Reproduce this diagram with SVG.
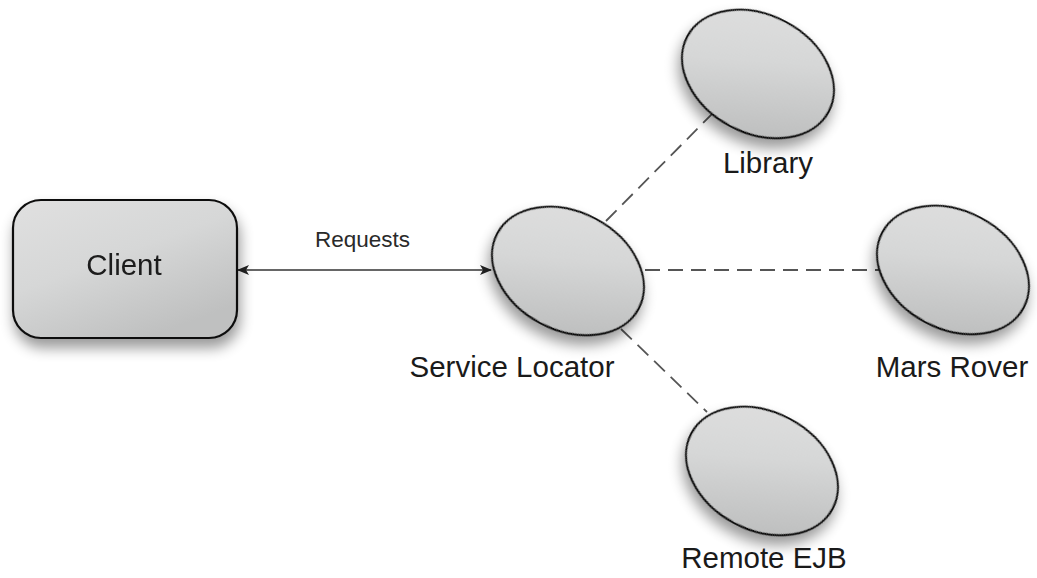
<svg xmlns="http://www.w3.org/2000/svg" width="1037" height="578" viewBox="0 0 1037 578">
  <defs>
    <linearGradient id="fillGrad" x1="0" y1="0" x2="0.6" y2="1">
      <stop offset="0" stop-color="#e0e0e0"/>
      <stop offset="0.5" stop-color="#d6d7d7"/>
      <stop offset="1" stop-color="#bfc0c0"/>
    </linearGradient>
    <filter id="shadow" x="-25%" y="-25%" width="150%" height="160%">
      <feGaussianBlur in="SourceAlpha" stdDeviation="7"/>
      <feOffset dx="2" dy="9" result="b"/>
      <feComponentTransfer><feFuncA type="linear" slope="0.4"/></feComponentTransfer>
      <feMerge><feMergeNode/><feMergeNode in="SourceGraphic"/></feMerge>
    </filter>
    <marker id="arrow" viewBox="0 0 12 10" refX="11" refY="5" markerWidth="12" markerHeight="10" markerUnits="userSpaceOnUse" orient="auto-start-reverse">
      <path d="M0,0 L12,5 L0,10 L3,5 Z" fill="#222"/>
    </marker>
  </defs>
  <style>
    .node { fill: url(#fillGrad); stroke: #111; stroke-width: 2.2; }
    .label { font-family: "Liberation Sans", Arial, sans-serif; font-size: 29.5px; fill: #1a1a1a; text-anchor: middle; }
    .small { font-family: "Liberation Sans", Arial, sans-serif; font-size: 22.5px; fill: #2a2a2a; text-anchor: middle; }
    .dash { stroke: #555; stroke-width: 1.8; stroke-dasharray: 15 8; fill: none; }
    .solid { stroke: #333; stroke-width: 1.5; fill: none; }
  </style>
  <rect width="1037" height="578" fill="#ffffff"/>

  <g id="connectors">
    <line class="solid" x1="238" y1="270" x2="491" y2="270" marker-start="url(#arrow)" marker-end="url(#arrow)"/>
    <text class="small" x="362.5" y="247">Requests</text>
    <line class="dash" x1="606" y1="221" x2="714" y2="112"/>
    <line class="dash" x1="645" y1="270" x2="879" y2="270"/>
    <line class="dash" x1="621" y1="329" x2="707" y2="412"/>
  </g>

  <g id="client" filter="url(#shadow)">
    <rect class="node" x="13" y="200" width="224" height="138" rx="28" ry="28"/>
    <text class="label" x="124" y="275">Client</text>
  </g>

  <g id="service-locator">
    <ellipse class="node" filter="url(#shadow)" cx="568" cy="271" rx="80" ry="59" transform="rotate(28 568 271)"/>
    <text class="label" x="512" y="377">Service Locator</text>
  </g>

  <g id="library">
    <ellipse class="node" filter="url(#shadow)" cx="758" cy="74" rx="80" ry="59" transform="rotate(28 758 74)"/>
    <text class="label" x="768" y="173">Library</text>
  </g>

  <g id="mars-rover">
    <ellipse class="node" filter="url(#shadow)" cx="953" cy="270" rx="80" ry="59" transform="rotate(28 953 270)"/>
    <text class="label" x="952" y="377">Mars Rover</text>
  </g>

  <g id="remote-ejb">
    <ellipse class="node" filter="url(#shadow)" cx="762" cy="471" rx="80" ry="59" transform="rotate(28 762 471)"/>
    <text class="label" x="764" y="568">Remote EJB</text>
  </g>
</svg>
